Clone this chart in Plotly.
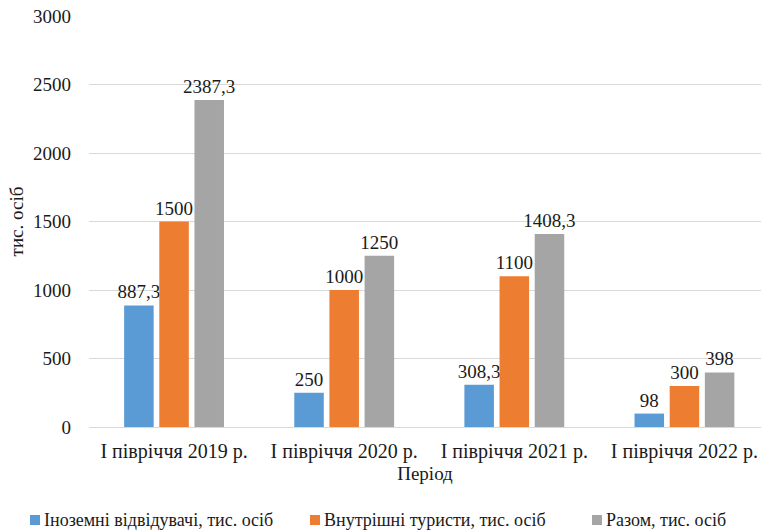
import plotly.graph_objects as go

categories = ["I півріччя 2019 р.", "I півріччя 2020 р.", "I півріччя 2021 р.", "I півріччя 2022 р."]
foreign = [887.3, 250, 308.3, 98]
domestic = [1500, 1000, 1100, 300]
total = [2387.3, 1250, 1408.3, 398]
series_names = ["Іноземні відвідувачі, тис. осіб", "Внутрішні туристи, тис. осіб", "Разом, тис. осіб"]
colors = ["#5b9bd5", "#ed7d31", "#a5a5a5"]
y_ticks = [0, 500, 1000, 1500, 2000, 2500, 3000]

FONT = "Liberation Serif, serif"
TXT = "#1a1a1a"

W, H = 761, 532
ML, MR, MT, MB = 89, 0, 16, 105
PW, PH = W - ML - MR, H - MT - MB

def fmt(v):
    return f"{v:g}".replace(".", ",")

def px_x(px):
    return (px - ML) / PW

def px_y(py):
    return (H - MB - py) / PH

fig = go.Figure()
for name, vals, col in zip(series_names, [foreign, domestic, total], colors):
    fig.add_trace(go.Bar(
        x=categories, y=vals, name=name,
        marker=dict(color=col, line=dict(width=0)),
        text=[fmt(v) for v in vals], textposition="outside",
        constraintext="none",
        textfont=dict(family=FONT, size=19, color=TXT),
        cliponaxis=False, showlegend=False,
    ))

# legend drawn as key squares + text, laid out like the reference
legend_starts = [30, 310, 592]
legend_y = 520
for name, col, x0 in zip(series_names, colors, legend_starts):
    fig.add_shape(type="rect", xref="paper", yref="paper",
                  x0=px_x(x0), x1=px_x(x0 + 10), y0=px_y(legend_y + 5), y1=px_y(legend_y - 5),
                  fillcolor=col, line=dict(width=0))
    fig.add_annotation(xref="paper", yref="paper", x=px_x(x0 + 12), y=px_y(legend_y),
                       xanchor="left", yanchor="middle", showarrow=False, text=name,
                       font=dict(family=FONT, size=18, color=TXT))

fig.update_layout(
    width=W, height=H,
    margin=dict(l=ML, r=MR, t=MT, b=MB, autoexpand=False),
    paper_bgcolor="white", plot_bgcolor="white",
    barmode="group", bargap=0.38, bargroupgap=0.16,
    font=dict(family=FONT, size=17, color=TXT),
    showlegend=False,
    xaxis=dict(range=[-0.5, 3.45], showgrid=False, showline=False, ticks="", automargin=False,
               ticklabelstandoff=10,
               tickfont=dict(family=FONT, size=20, color=TXT),
               title=dict(text="Період", font=dict(family=FONT, size=19, color=TXT), standoff=4)),
    yaxis=dict(range=[0, 3000], tickvals=y_ticks, showgrid=True, gridcolor="#d9d9d9", gridwidth=1.3,
               zeroline=True, zerolinecolor="#d9d9d9", zerolinewidth=1.3, automargin=False,
               showline=False, ticks="", ticklabelstandoff=17,
               tickfont=dict(family=FONT, size=19, color=TXT),
               title=dict(text="тис. осіб", font=dict(family=FONT, size=19, color=TXT), standoff=4)),
)

fig.write_html("out.html", config={"displayModeBar": False},
               post_script="document.body.style.margin='0';document.body.style.padding='0';")
